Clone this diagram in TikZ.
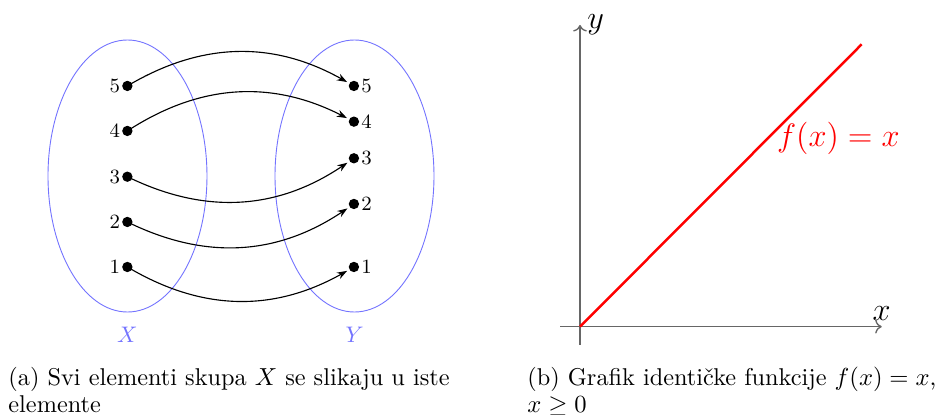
\documentclass[tikz,border=0pt]{standalone}
\usepackage{amsmath,amssymb}
\usepackage{tikz}
\usetikzlibrary{positioning, arrows.meta, calc}
\tikzset{
    dot/.style={circle, fill=black, inner sep=0pt, minimum size=4.6pt},
    setline/.style={blue!55, thin},
    maparrow/.style={-{Stealth[length=4.5pt, width=3.2pt]}, line width=0.5pt, shorten >=1pt},
    axis/.style={->, black!60, line width=0.6pt},
    elem/.style={font=\small, inner sep=0.6pt},
    captext/.style={anchor=north west, inner sep=0pt, align=left, font=\fontsize{10.8}{12.2}\selectfont}
}

\begin{document}
\begin{tikzpicture}
        \useasboundingbox (0,0) rectangle (14.6875,6.484);

        % ==========================================
        % LEFT SIDE: Mapping between sets X and Y
        % ==========================================
        \begin{scope}
            % 1. Sets
            \draw[setline] (1.992,3.734) ellipse (1.242 and 2.125);
            \draw[setline] (5.539,3.734) ellipse (1.242 and 2.125);
            \node[blue!55] (setX) at (1.99,1.25) {$X$};
            \node[blue!55] (setY) at (5.54,1.25) {$Y$};

            % 2. Elements of X
            \node[dot, label={[elem]left:5}] (x5) at (1.99,5.141) {};
            \node[dot, label={[elem]left:4}] (x4) at (1.99,4.438) {};
            \node[dot, label={[elem]left:3}] (x3) at (1.99,3.723) {};
            \node[dot, label={[elem]left:2}] (x2) at (1.99,3.016) {};
            \node[dot, label={[elem]left:1}] (x1) at (1.99,2.3125) {};

            % 3. Elements of Y
            \node[dot, label={[elem]right:5}] (y5) at (5.53,5.141) {};
            \node[dot, label={[elem]right:4}] (y4) at (5.53,4.583) {};
            \node[dot, label={[elem]right:3}] (y3) at (5.53,4.011) {};
            \node[dot, label={[elem]right:2}] (y2) at (5.53,3.297) {};
            \node[dot, label={[elem]right:1}] (y1) at (5.53,2.3125) {};

            % 4. Identity mapping
            \draw[maparrow] (x5.center) to[bend left=30] (y5);
            \draw[maparrow] (x4.center) to[bend left=30] (y4);
            \draw[maparrow] (x3.center) to[bend right=30] (y3);
            \draw[maparrow] (x2.center) to[bend right=30] (y2);
            \draw[maparrow] (x1.center) to[bend right=30] (y1);

            % 5. Caption
            \node[captext] (capA) at (0.125,0.76)
                {(a) Svi elementi skupa $X$ se slikaju u iste\\ elemente};
        \end{scope}

        % ==========================================
        % RIGHT SIDE: Graph of the identity function
        % ==========================================
        \begin{scope}
            % Axes
            \coordinate (O) at (9.0625,1.38);
            \coordinate (xend) at (13.777,1.38);
            \coordinate (yend) at (9.0625,6.094);
            \draw[axis] (8.75,1.38) -- (xend) node[above, black, font=\Large, inner sep=2.5pt] (xlab) {$x$};
            \draw[axis] (9.0625,1.094) -- (yend) node[right, black, font=\Large, inner sep=3pt] (ylab) {$y$};

            % Identity line
            \coordinate (fend) at (13.464,5.792);
            \draw[red, line width=1.1pt] (O) -- (fend);
            \node[right, red, font=\Large, inner sep=1pt] (flab) at (12.1,4.328) {$f(x)=x$};

            % Caption
            \node[captext] (capB) at (8.234,0.76)
                {(b) Grafik identičke funkcije $f(x) = x$,\\ $x \geq 0$};
        \end{scope}

    \end{tikzpicture}
\end{document}
